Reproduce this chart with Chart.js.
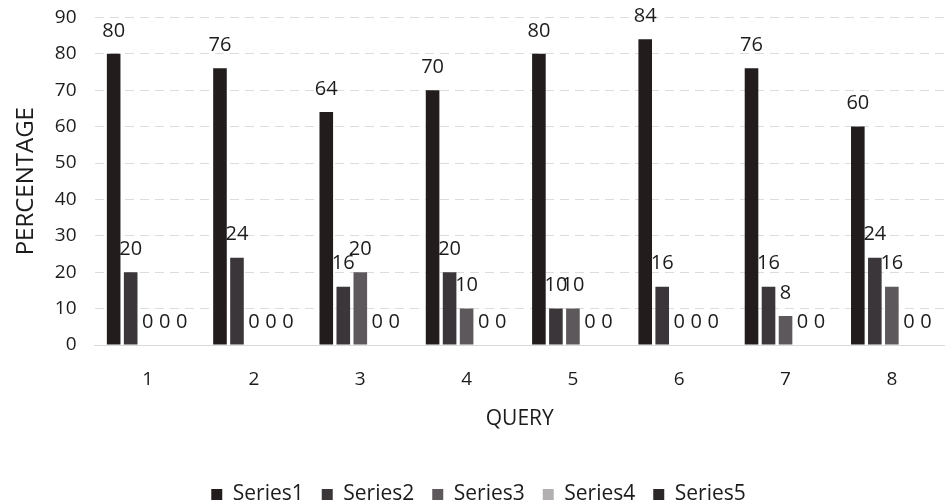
<!DOCTYPE html>
<html>
<head>
<meta charset="utf-8">
<script src="https://cdn.jsdelivr.net/npm/chart.js@4/dist/chart.umd.min.js"></script>
<style>
  html, body { margin: 0; padding: 0; background: #ffffff; }
  #wrap { width: 945px; height: 502px; }
</style>
</head>
<body>
<div id="wrap"><canvas id="c" width="945" height="502"></canvas></div>
<script>
const categories = ["1", "2", "3", "4", "5", "6", "7", "8"];
const series1 = [80, 76, 64, 70, 80, 84, 76, 60];
const series2 = [20, 24, 16, 20, 10, 16, 16, 24];
const series3 = [0, 0, 20, 10, 10, 0, 8, 16];
const series4 = [0, 0, 0, 0, 0, 0, 0, 0];
const series5 = [0, 0, 0, 0, 0, 0, 0, 0];
const seriesNames = ["Series1", "Series2", "Series3", "Series4", "Series5"];
const seriesColors = ["#221d1c", "#3b3639", "#5d585b", "#b3b0b1", "#2b2627"];

const FONT = "'Open Sans', 'Liberation Sans', sans-serif";
const TEXT = "#1c1c1c";
const LEGEND_SHIFT = 13;

const labelPlugin = {
  id: 'barValueLabels',
  afterLayout(chart) {
    // move the library legend a little lower inside its reserved box
    if (chart.legend) {
      chart.legend.top += LEGEND_SHIFT;
      chart.legend.bottom += LEGEND_SHIFT;
    }
  },
  afterDatasetsDraw(chart) {
    const ctx = chart.ctx;
    ctx.save();
    ctx.font = "20px " + FONT;
    ctx.fillStyle = TEXT;
    ctx.textAlign = "center";
    ctx.textBaseline = "middle";
    chart.data.datasets.forEach((ds, i) => {
      const meta = chart.getDatasetMeta(i);
      meta.data.forEach((el, j) => {
        ctx.fillText(String(ds.data[j]), el.x, el.y - 23);
      });
    });
    ctx.restore();
  }
};

const dataArrays = [series1, series2, series3, series4, series5];

new Chart(document.getElementById('c'), {
  type: 'bar',
  data: {
    labels: categories,
    datasets: dataArrays.map((d, i) => ({
      label: seriesNames[i],
      data: d,
      backgroundColor: seriesColors[i],
      borderWidth: 0,
      barPercentage: 0.8,
      categoryPercentage: 0.8
    }))
  },
  options: {
    responsive: false,
    animation: false,
    layout: { padding: { left: 12, right: 0, top: 0, bottom: 0 } },
    plugins: {
      legend: {
        position: 'bottom',
        labels: {
          boxWidth: 11, boxHeight: 11, padding: 18,
          color: TEXT,
          font: { family: FONT, size: 21 }
        }
      },
      tooltip: { enabled: false }
    },
    scales: {
      x: {
        grid: { display: false },
        border: { display: true, color: "#dadada" },
        ticks: { color: TEXT, font: { family: FONT, size: 19 }, padding: 15 },
        title: {
          display: true, text: "QUERY", color: TEXT,
          font: { family: FONT, size: 21 },
          padding: { top: 1, bottom: 21 }
        }
      },
      y: {
        min: 0, max: 90,
        grid: { color: "#dcdcdc", drawTicks: true, tickLength: 12, tickColor: "rgba(0,0,0,0)" },
        border: { display: false, dash: [9, 6] },
        ticks: { stepSize: 10, color: TEXT, font: { family: FONT, size: 19 }, padding: 6 },
        title: {
          display: true, text: "PERCENTAGE", color: TEXT,
          font: { family: FONT, size: 24 },
          padding: { top: 0, bottom: 8 }
        }
      }
    }
  },
  plugins: [labelPlugin]
});
</script>
</body>
</html>
